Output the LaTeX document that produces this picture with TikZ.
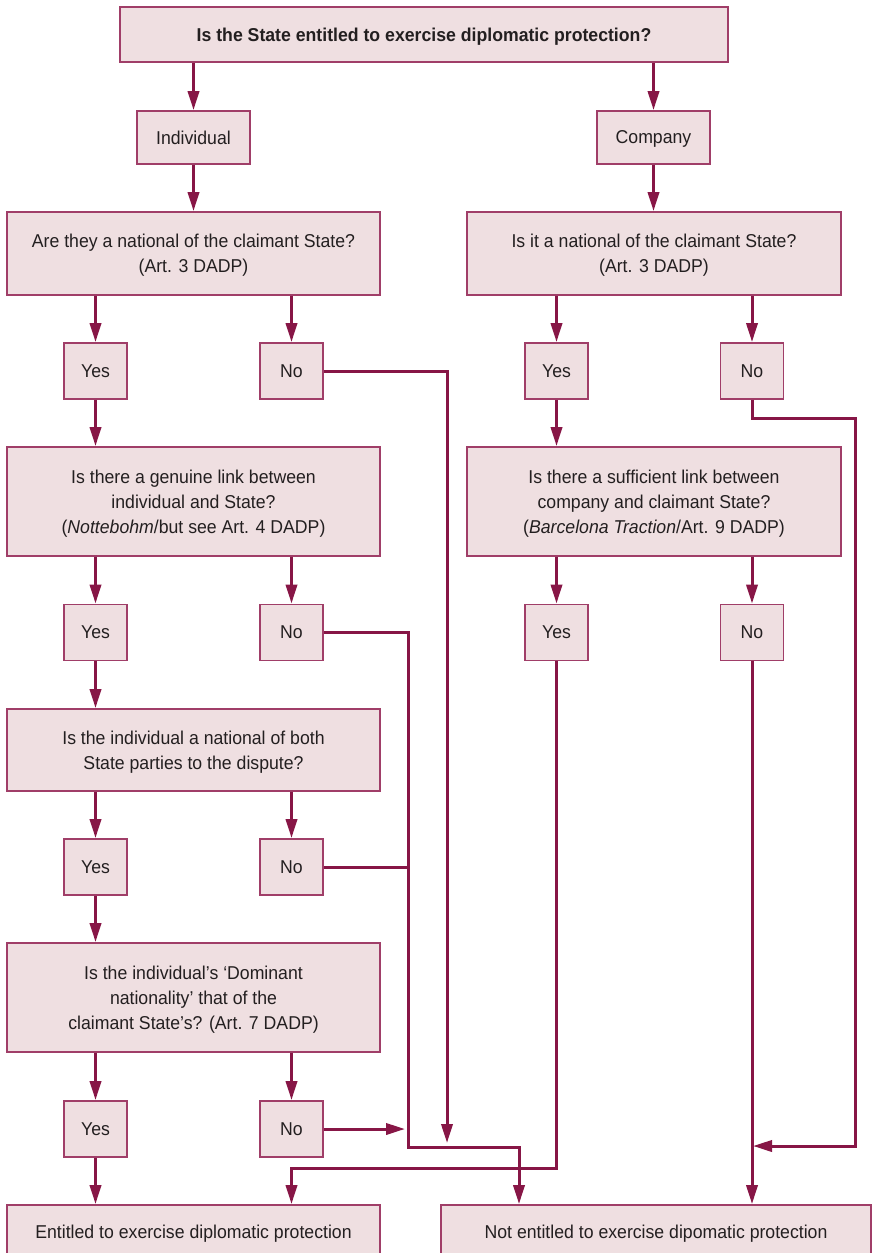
\documentclass[tikz,border=0pt]{standalone}
\usepackage{fontspec}
\setmainfont{Liberation Sans}[FakeStretch=0.95]
\usetikzlibrary{arrows.meta}
\definecolor{boxfill}{RGB}{239,223,225}
\definecolor{boxline}{RGB}{160,62,104}
\definecolor{wire}{RGB}{135,22,70}
\definecolor{ink}{RGB}{35,31,32}
\tikzset{
  box/.style={draw=boxline, fill=boxfill, line width=0.95pt, inner sep=0pt,
    text=ink, align=center, text depth=0pt,
    font=\fontsize{9.3}{12.6}\selectfont},
  qbox/.style={box, minimum width=186.5pt},
  ynbox/.style={box, minimum width=31.5pt, minimum height=28pt},
  wire/.style={draw=wire, line width=1.5pt},
  arr/.style={wire, -{Triangle[length=9.5pt,width=5.6pt]}},
}
\begin{document}
\begin{tikzpicture}[x=0.5pt,y=-0.5pt]
\useasboundingbox (0,0) rectangle (872,1253);

% question boxes
\node[box, minimum width=304pt, minimum height=27.5pt] (top) at (424,34.5)
  {\textbf{Is the State entitled to exercise diplomatic protection?}};
\node[box, minimum width=56.5pt, minimum height=26.5pt] (ind) at (193.5,137.5) {Individual};
\node[box, minimum width=56.5pt, minimum height=26.5pt] (comp) at (653.5,137.5) {Company};

\node[qbox, minimum height=41.5pt] (q1) at (193.5,253.5)
  {Are they a national of the claimant State?\\(Art. 3 DADP)};
\node[qbox, minimum width=187pt, minimum height=41.5pt] (q1c) at (654,253.5)
  {Is it a national of the claimant State?\\(Art. 3 DADP)};

\node[ynbox] (y1) at (95.5,371) {Yes};
\node[ynbox] (n1) at (291.5,371) {No};
\node[ynbox] (cy1) at (556.5,371) {Yes};
\node[ynbox] (cn1) at (752,371) {No};

\node[qbox, minimum height=54.5pt] (q2) at (193.5,501.5)
  {Is there a genuine link between\\individual and State?\\(\textit{Nottebohm}/but see Art. 4 DADP)};
\node[qbox, minimum width=187pt, minimum height=54.5pt] (q2c) at (654,501.5)
  {Is there a sufficient link between\\company and claimant State?\\(\textit{Barcelona Traction}/Art. 9 DADP)};

\node[ynbox] (y2) at (95.5,632.5) {Yes};
\node[ynbox] (n2) at (291.5,632.5) {No};
\node[ynbox] (cy2) at (556.5,632.5) {Yes};
\node[ynbox] (cn2) at (752,632.5) {No};

\node[qbox, minimum height=41pt] (q3) at (193.5,750)
  {Is the individual a national of both\\State parties to the dispute?};

\node[ynbox] (y3) at (95.5,867) {Yes};
\node[ynbox] (n3) at (291.5,867) {No};

\node[qbox, minimum height=54.5pt] (q4) at (193.5,997.5)
  {Is the individual's `Dominant\\nationality' that of the\\claimant State's? (Art. 7 DADP)};

\node[ynbox] (y4) at (95.5,1129) {Yes};
\node[ynbox] (n4) at (291.5,1129) {No};

% outcomes
\node[qbox, minimum height=27pt] (fin) at (193.5,1232)
  {Entitled to exercise diplomatic protection};
\node[box, minimum width=215pt, minimum height=27pt] (nofin) at (656,1232)
  {Not entitled to exercise dipomatic protection};

% routing points
\coordinate (t1) at (447,1143);
\coordinate (t4) at (405,1129);
\coordinate (t5) at (753,1146);

% main flow
\draw[arr] (top.south -| ind) -- (ind.north);
\draw[arr] (top.south -| comp) -- (comp.north);
\draw[arr] (ind.south) -- (q1.north -| ind);
\draw[arr] (comp.south) -- (q1c.north -| comp);

\draw[arr] (q1.south -| y1) -- (y1.north);
\draw[arr] (q1.south -| n1) -- (n1.north);
\draw[arr] (q1c.south -| cy1) -- (cy1.north);
\draw[arr] (q1c.south -| cn1) -- (cn1.north);

\draw[arr] (y1.south) -- (q2.north -| y1);
\draw[arr] (cy1.south) -- (q2c.north -| cy1);

\draw[arr] (q2.south -| y2) -- (y2.north);
\draw[arr] (q2.south -| n2) -- (n2.north);
\draw[arr] (q2c.south -| cy2) -- (cy2.north);
\draw[arr] (q2c.south -| cn2) -- (cn2.north);

\draw[arr] (y2.south) -- (q3.north -| y2);
\draw[arr] (q3.south -| y3) -- (y3.north);
\draw[arr] (q3.south -| n3) -- (n3.north);
\draw[arr] (y3.south) -- (q4.north -| y3);
\draw[arr] (q4.south -| y4) -- (y4.north);
\draw[arr] (q4.south -| n4) -- (n4.north);
\draw[arr] (y4.south) -- (fin.north -| y4);

% "No" routes
\draw[arr] (n1.east) -- (n1.east -| t1) -- (t1);
\draw[arr] (n2.east) -- (408,632.5) -- (408,1147) -- (519,1147) -- (nofin.north -| 519,0);
\draw[wire] (n3.east) -- (408,867);
\draw[arr] (n4.east) -- (n4.east -| t4);
\draw[arr] (cy2.south) -- (556.5,1168) -- (291.5,1168) -- (fin.north -| n4);
\draw[arr] (cn1.south) -- (752,418) -- (855,418) -- (855,1146) -- (t5);
\draw[arr] (cn2.south) -- (nofin.north -| cn2);
\end{tikzpicture}
\end{document}
